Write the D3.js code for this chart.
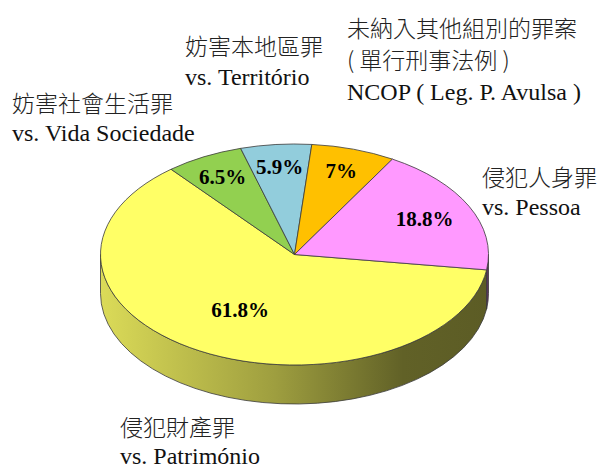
<!DOCTYPE html>
<html>
<head>
<meta charset="utf-8">
<script src="https://cdn.jsdelivr.net/npm/d3@7"></script>
<style>
  body { margin: 0; background: #fff; }
  .lbl { font-family: "Liberation Serif", "Times New Roman", serif; font-size: 24px; fill: #111; }
  .cjk { font-family: "Noto Sans CJK TC", sans-serif; font-size: 23px; font-weight: 300; fill: #222; }
  .pct { font-family: "Liberation Serif", "Times New Roman", serif; font-weight: bold; font-size: 21px; fill: #000; }
</style>
</head>
<body>
<div id="chart"></div>
<script>
// slice data, in drawing order (clockwise from just below 3 o'clock)
const categories = ['侵犯財產罪', '妨害社會生活罪', '妨害本地區罪', '未納入其他組別的罪案', '侵犯人身罪'];
const values = [61.8, 6.5, 5.9, 7, 18.8];
const colors = ['#ffff66', '#92d050', '#92cddc', '#ffc000', '#ff99ff'];
const labelLines = [
  ['侵犯財產罪', 'vs. Património'],
  ['妨害社會生活罪', 'vs. Vida Sociedade'],
  ['妨害本地區罪', 'vs. Território'],
  ['未納入其他組別的罪案', '( 單行刑事法例 )', 'NCOP ( Leg. P. Avulsa )'],
  ['侵犯人身罪', 'vs. Pessoa']
];

// layout
const width = 601, height = 468;
const cx = 294.5, cy = 254.5, rx = 194, ry = 110.5, depth = 39;
const startDeg = 98; // d3.pie angle (0 = 12 o'clock)
// [x, first baseline, line step]
const labelPos = [[120, 436, 28], [12, 112, 29], [185, 55, 29.5], [347, 37, 31.5], [482, 186, 29]];

const data = categories.map((c, i) => ({ name: c, value: values[i], color: colors[i], lines: labelLines[i], pos: labelPos[i] }));

const svg = d3.select('#chart').append('svg')
  .attr('width', width)
  .attr('height', height);

const defs = svg.append('defs');

const pie = d3.pie().sort(null).value(d => d.value)
  .startAngle(startDeg * Math.PI / 180)
  .endAngle(startDeg * Math.PI / 180 + 2 * Math.PI);
const arcs = pie(data);

// pie angle -> point on ellipse (screen)
function pt(a, dy = 0, k = 1) {
  const t = a - Math.PI / 2;
  return [cx + k * rx * Math.cos(t), cy + k * ry * Math.sin(t) + dy];
}

function topPath(d) {
  const p0 = pt(d.startAngle), p1 = pt(d.endAngle);
  const large = d.endAngle - d.startAngle > Math.PI ? 1 : 0;
  return `M${cx},${cy}L${p0}A${rx},${ry} 0 ${large} 1 ${p1}Z`;
}

// visible front wall: screen angle in [0, PI] (pie angle in [PI/2, 3PI/2]) and +2PI
function sideParts(d) {
  const parts = [];
  [[Math.PI / 2, 1.5 * Math.PI], [2.5 * Math.PI, 3.5 * Math.PI]].forEach(([lo, hi]) => {
    const a0 = Math.max(lo, d.startAngle), a1 = Math.min(hi, d.endAngle);
    if (a1 > a0) parts.push([a0, a1]);
  });
  return parts;
}

function sidePath([a0, a1]) {
  const p0 = pt(a0), p1 = pt(a1), q0 = pt(a0, depth), q1 = pt(a1, depth);
  return `M${p0}A${rx},${ry} 0 0 1 ${p1}L${q1}A${rx},${ry} 0 0 0 ${q0}Z`;
}

// shaded gradients for the wall, light on the left to dark on the right
const shade = [[0, 0.86], [0.45, 0.62], [0.78, 0.38], [1, 0.36]];
data.forEach((d, i) => {
  const g = defs.append('linearGradient')
    .attr('id', 'side' + i)
    .attr('gradientUnits', 'userSpaceOnUse')
    .attr('x1', cx - rx).attr('x2', cx + rx)
    .attr('y1', 0).attr('y2', 0);
  const c = d3.rgb(d.color);
  g.selectAll('stop')
    .data(shade)
    .join('stop')
    .attr('offset', s => s[0])
    .attr('stop-color', s => d3.rgb(c.r * s[1], c.g * s[1], c.b * s[1]).formatHex());
});

const chart = svg.append('g');

// walls
arcs.forEach((d, i) => {
  sideParts(d).forEach(p => {
    chart.append('path')
      .attr('d', sidePath(p))
      .attr('fill', `url(#side${i})`)
      .attr('stroke', '#3a3a3a')
      .attr('stroke-width', 0.8)
      .attr('stroke-linejoin', 'round');
  });
});

// tops
chart.selectAll('.top')
  .data(arcs)
  .join('path')
  .attr('class', 'top')
  .attr('d', topPath)
  .attr('fill', d => d.data.color)
  .attr('stroke', '#3a3a3a')
  .attr('stroke-width', 0.8)
  .attr('stroke-linejoin', 'round');

// percentage labels
chart.selectAll('.pct')
  .data(arcs)
  .join('text')
  .attr('class', 'pct')
  .attr('text-anchor', 'middle')
  .attr('dy', '0.35em')
  .attr('transform', d => {
    const k = 0.82 - 0.4 * d.data.value / 100;
    const p = pt((d.startAngle + d.endAngle) / 2, 0, k);
    return `translate(${p})`;
  })
  .text(d => d.data.value + '%');

// category labels
const isCjk = s => /[\u3400-\u9fff]/.test(s) && !/[A-Za-z]/.test(s);
data.forEach(d => {
  const t = svg.append('text')
    .attr('class', 'lbl')
    .attr('x', d.pos[0])
    .attr('y', d.pos[1]);
  d.lines.forEach((line, j) => {
    t.append('tspan')
      .attr('x', d.pos[0])
      .attr('y', d.pos[1] + j * d.pos[2])
      .attr('class', isCjk(line) ? 'cjk' : null)
      .text(line);
  });
});
</script>
</body>
</html>
